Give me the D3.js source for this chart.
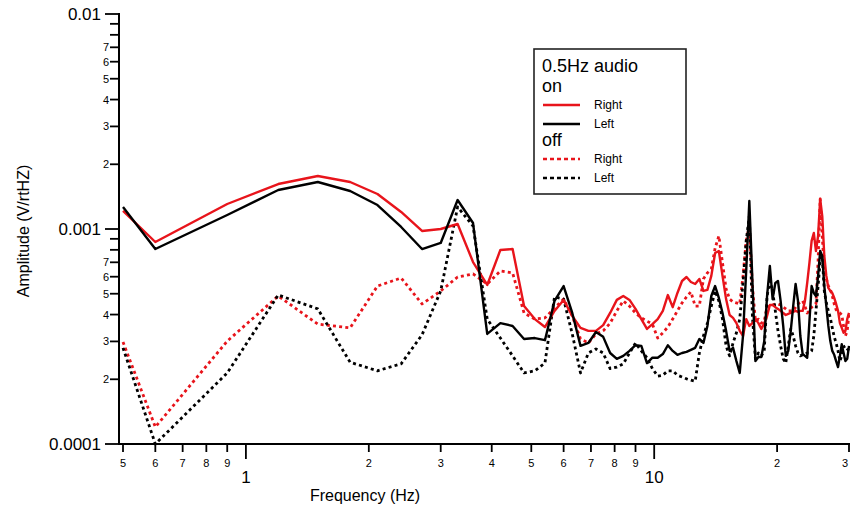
<!DOCTYPE html>
<html>
<head>
<meta charset="utf-8">
<script src="https://cdn.jsdelivr.net/npm/d3@7"></script>
<style>
  body { margin: 0; background: #fff; }
  svg { display: block; }
  text { font-family: "Liberation Sans", Arial, Helvetica, sans-serif; fill: #000; }
</style>
</head>
<body>
<svg id="chart" width="850" height="510"></svg>
<script>
// Frequency bins (Hz)
const freqHz = [
  0.5, 0.6, 0.9, 1.2, 1.5, 1.8, 2.1, 2.4, 2.7, 3.0,
  3.3, 3.6, 3.9, 4.2, 4.5, 4.8, 5.1, 5.4, 5.7, 6.0,
  6.3, 6.6, 6.9, 7.2, 7.5, 7.8, 8.1, 8.4, 8.7, 9.0,
  9.3, 9.6, 9.9, 10.2, 10.5, 10.8, 11.1, 11.4, 11.7, 12.0,
  12.3, 12.6, 12.9, 13.2, 13.5, 13.8, 14.1, 14.4, 14.7, 15.0,
  15.3, 15.6, 15.9, 16.2, 16.5, 16.8, 17.1, 17.4, 17.7, 18.0,
  18.3, 18.6, 18.9, 19.2, 19.5, 19.8, 20.1, 20.4, 20.7, 21.0,
  21.3, 21.6, 21.9, 22.2, 22.5, 22.8, 23.1, 23.4, 23.7, 24.0,
  24.3, 24.6, 24.9, 25.2, 25.5, 25.8, 26.1, 26.4, 26.7, 27.0,
  27.3, 27.6, 27.9, 28.2, 28.5, 28.8, 29.1, 29.4, 29.7, 30.0
];

// Amplitudes, in units of 1e-4 V/rtHz
const ampUnit = 1e-4;

// audio on, right channel
const onRight = [
  12.13, 8.70, 13.07, 16.19, 17.64, 16.54, 14.55, 12.00, 9.79, 10.00,
  10.55, 7.02, 5.49, 7.99, 8.07, 4.38, 3.81, 3.50, 4.16, 4.68,
  3.94, 3.47, 3.36, 3.36, 3.57, 4.07, 4.68, 4.88, 4.68, 4.25,
  3.81, 3.43, 3.61, 3.81, 4.16, 4.93, 4.33, 5.04, 5.73, 5.98,
  5.67, 5.55, 5.86, 5.15, 5.21, 6.05, 7.73, 7.90, 6.05, 4.72,
  3.98, 3.86, 3.65, 3.36, 3.18, 3.81, 3.54, 3.65, 3.81, 3.65,
  3.43, 3.65, 3.94, 4.43, 4.43, 4.33, 4.25, 4.16, 4.07, 3.98,
  4.03, 4.07, 4.12, 4.16, 4.12, 4.16, 4.16, 4.63, 5.61, 6.95,
  8.80, 9.58, 7.90, 9.28, 13.79, 11.49, 7.49, 6.05, 5.32, 5.15,
  5.04, 4.78, 4.48, 4.16, 3.65, 3.47, 3.29, 3.36, 3.81, 4.07
];

// audio on, left channel
const onLeft = [
  12.66, 8.07, 11.62, 15.18, 16.54, 15.02, 12.93, 10.22, 8.07, 8.61,
  13.64, 10.66, 3.25, 3.65, 3.54, 3.08, 3.11, 3.04, 4.63, 5.43,
  4.07, 2.86, 2.95, 3.32, 3.15, 2.65, 2.49, 2.57, 2.71, 2.88,
  2.86, 2.38, 2.52, 2.52, 2.62, 2.88, 2.71, 2.60, 2.65, 2.68,
  2.74, 2.80, 3.08, 2.95, 3.54, 4.88, 5.43, 4.78, 4.07, 3.36,
  2.71, 2.80, 2.43, 2.14, 3.18, 6.38, 13.50, 5.73, 2.43, 2.54,
  2.54, 3.01, 4.88, 6.73, 4.72, 5.61, 5.73, 4.63, 3.54, 2.57,
  2.71, 3.36, 4.38, 5.55, 4.63, 3.18, 2.62, 2.57, 2.52, 3.73,
  5.43, 5.04, 4.88, 6.05, 7.90, 7.49, 5.43, 4.38, 3.54, 3.01,
  2.71, 2.60, 2.43, 2.28, 2.57, 2.91, 2.65, 2.43, 2.49, 2.86
];

// audio off, right channel
const offRight = [
  2.98, 1.20, 3.01, 4.88, 3.61, 3.47, 5.43, 5.92, 4.48, 5.15,
  5.98, 6.18, 5.55, 6.38, 6.25, 4.07, 3.81, 3.86, 4.29, 4.72,
  3.94, 3.08, 2.95, 3.25, 3.36, 3.65, 4.16, 4.63, 4.38, 4.07,
  3.86, 3.73, 3.61, 3.11, 3.29, 3.50, 3.81, 4.16, 4.53, 4.83,
  5.10, 4.38, 4.38, 5.86, 6.25, 6.52, 8.15, 9.28, 6.95, 5.26,
  4.72, 4.58, 4.53, 4.48, 6.05, 8.80, 10.33, 5.43, 3.73, 3.81,
  3.65, 3.73, 4.33, 4.38, 4.43, 4.48, 4.48, 4.43, 4.33, 4.25,
  4.16, 4.16, 4.16, 4.33, 4.48, 4.58, 4.63, 4.38, 4.07, 4.16,
  4.33, 4.43, 4.48, 7.10, 13.79, 9.28, 6.38, 5.86, 5.43, 5.26,
  4.88, 4.48, 4.21, 4.12, 4.07, 3.98, 3.54, 3.18, 3.36, 4.03
];

// audio off, left channel
const offLeft = [
  2.80, 1.00, 2.14, 4.93, 4.25, 2.40, 2.19, 2.36, 3.22, 5.15,
  12.66, 10.33, 3.81, 3.11, 2.57, 2.14, 2.19, 2.38, 4.83, 4.72,
  3.25, 2.14, 2.65, 2.77, 2.65, 2.24, 2.28, 2.36, 2.65, 2.95,
  2.71, 2.52, 2.24, 2.07, 2.09, 2.19, 2.19, 2.09, 2.05, 2.01,
  1.98, 1.96, 2.65, 3.18, 3.65, 4.38, 5.15, 4.63, 3.81, 2.86,
  2.57, 2.95, 3.29, 3.81, 5.61, 8.80, 11.49, 3.94, 2.49, 2.65,
  2.57, 2.71, 4.88, 5.73, 5.15, 4.16, 3.36, 2.86, 2.49, 2.38,
  2.86, 3.43, 3.18, 2.86, 2.65, 2.57, 2.60, 2.62, 2.65, 2.65,
  2.71, 3.18, 4.16, 5.43, 7.10, 7.49, 5.15, 4.53, 4.16, 3.86,
  3.47, 3.15, 2.95, 2.71, 2.43, 2.57, 2.83, 2.86, 2.77, 2.71
];

// Axis ticks and labels
const xMajorTicks  = [1, 10];
const xMajorLabels = ["1", "10"];
const xMinorTicks  = [0.5, 0.6, 0.7, 0.8, 0.9, 2, 3, 4, 5, 6, 7, 8, 9, 20, 30];
const xMinorLabels = ["5", "6", "7", "8", "9", "2", "3", "4", "5", "6", "7", "8", "9", "2", "3"];
const yMajorTicks  = [1e-4, 1e-3, 1e-2];
const yMajorLabels = ["0.0001", "0.001", "0.01"];
const yMinorTicks  = [2e-4, 3e-4, 4e-4, 5e-4, 6e-4, 7e-4, 8e-4, 9e-4,
                      2e-3, 3e-3, 4e-3, 5e-3, 6e-3, 7e-3, 8e-3, 9e-3];
const yMinorLabels = ["2", "3", "4", "5", "6", "7", "", "",
                      "2", "3", "4", "5", "6", "7", "", ""];

const RED = "#e8141b";
const BLACK = "#000000";
const WIDTH = 850;

const svg = d3.select("#chart");

const x = d3.scaleLog().domain([0.5, 30]).range([123, 849]);
const y = d3.scaleLog().domain([1e-4, 1e-2]).range([444, 14]);
const axisX = 119;   // left edge where the y axis sits
const axisY = 444;   // baseline of the x axis

// ---- series ----
const series = [
  { values: offRight, color: RED,   dashed: true  },
  { values: offLeft,  color: BLACK, dashed: true  },
  { values: onRight,  color: RED,   dashed: false },
  { values: onLeft,   color: BLACK, dashed: false }
];

const line = d3.line()
  .x(d => x(d[0]))
  .y(d => y(d[1] * ampUnit));

series.forEach(s => {
  const pts = freqHz.map((f, i) => [f, s.values[i]]);
  svg.append("path")
    .attr("d", line(pts))
    .attr("fill", "none")
    .attr("stroke", s.color)
    .attr("stroke-width", s.dashed ? 2.8 : 2.4)
    .attr("stroke-linejoin", "round")
    .attr("stroke-dasharray", s.dashed ? "3,3.2" : null);
});

// ---- axes ----
const axes = svg.append("g").attr("stroke", "#000");

// y axis line
axes.append("line")
  .attr("x1", axisX).attr("x2", axisX)
  .attr("y1", y(1e-2) - 1).attr("y2", axisY + 1)
  .attr("stroke-width", 2);

// x axis line
axes.append("line")
  .attr("x1", axisX - 1).attr("x2", WIDTH)
  .attr("y1", axisY).attr("y2", axisY)
  .attr("stroke-width", 2);

// y ticks
yMajorTicks.forEach((v, i) => {
  axes.append("line")
    .attr("x1", axisX - 14).attr("x2", axisX)
    .attr("y1", y(v)).attr("y2", y(v))
    .attr("stroke-width", 1.8);
  svg.append("text")
    .attr("x", axisX - 18).attr("y", y(v))
    .attr("dy", "0.36em")
    .attr("text-anchor", "end")
    .attr("font-size", 17)
    .text(yMajorLabels[i]);
});
yMinorTicks.forEach((v, i) => {
  axes.append("line")
    .attr("x1", axisX - 9).attr("x2", axisX)
    .attr("y1", y(v)).attr("y2", y(v))
    .attr("stroke-width", 1.8);
  if (yMinorLabels[i]) {
    svg.append("text")
      .attr("x", axisX - 10).attr("y", y(v))
      .attr("dy", "0.36em")
      .attr("text-anchor", "end")
      .attr("font-size", 11)
      .text(yMinorLabels[i]);
  }
});

// x ticks
xMajorTicks.forEach((v, i) => {
  axes.append("line")
    .attr("x1", x(v)).attr("x2", x(v))
    .attr("y1", axisY).attr("y2", axisY + 15)
    .attr("stroke-width", 1.8);
  svg.append("text")
    .attr("x", x(v)).attr("y", axisY + 39)
    .attr("text-anchor", "middle")
    .attr("font-size", 17)
    .text(xMajorLabels[i]);
});
xMinorTicks.forEach((v, i) => {
  axes.append("line")
    .attr("x1", x(v)).attr("x2", x(v))
    .attr("y1", axisY).attr("y2", axisY + 8)
    .attr("stroke-width", 1.8);
  // keep the last label inside the page edge
  const lx = Math.min(x(v), WIDTH - 5);
  svg.append("text")
    .attr("x", lx).attr("y", axisY + 23)
    .attr("text-anchor", "middle")
    .attr("font-size", 11)
    .text(xMinorLabels[i]);
});

// axis titles
svg.append("text")
  .attr("x", 365).attr("y", 501)
  .attr("text-anchor", "middle")
  .attr("font-size", 16)
  .text("Frequency (Hz)");

svg.append("text")
  .attr("transform", "translate(29,231) rotate(-90)")
  .attr("text-anchor", "middle")
  .attr("font-size", 16)
  .text("Amplitude (V/rtHZ)");

// ---- legend ----
const legendTitle = "0.5Hz audio";
const legendGroups = [
  { heading: "on",  entries: [ { label: "Right", color: RED, dashed: false },
                               { label: "Left",  color: BLACK, dashed: false } ] },
  { heading: "off", entries: [ { label: "Right", color: RED, dashed: true },
                               { label: "Left",  color: BLACK, dashed: true } ] }
];

const lg = svg.append("g").attr("transform", "translate(534,49)");
lg.append("rect")
  .attr("x", 0).attr("y", 0)
  .attr("width", 152).attr("height", 145)
  .attr("fill", "#fff")
  .attr("stroke", "#222")
  .attr("stroke-width", 1.6);

lg.append("text")
  .attr("x", 8).attr("y", 23)
  .attr("font-size", 18)
  .text(legendTitle);

let cy = 43;
legendGroups.forEach(g => {
  lg.append("text")
    .attr("x", 8).attr("y", cy)
    .attr("font-size", 18)
    .text(g.heading);
  cy += 13;
  g.entries.forEach(e => {
    lg.append("line")
      .attr("x1", 9).attr("x2", 46)
      .attr("y1", cy).attr("y2", cy)
      .attr("stroke", e.color)
      .attr("stroke-width", 2.6)
      .attr("stroke-dasharray", e.dashed ? "4,3" : null);
    lg.append("text")
      .attr("x", 60).attr("y", cy)
      .attr("dy", "0.36em")
      .attr("font-size", 12)
      .text(e.label);
    cy += 19;
  });
  cy += 3;
});
</script>
</body>
</html>
